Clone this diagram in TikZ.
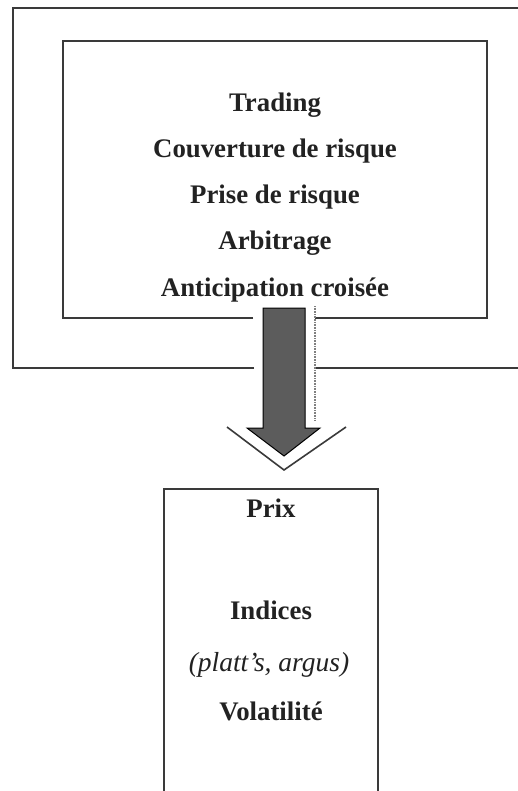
\documentclass[tikz,border=0pt]{standalone}
\usepackage{fontspec}
\setmainfont{Liberation Serif}
\definecolor{ink}{HTML}{222222}
\definecolor{boxline}{HTML}{3A3A3A}
\definecolor{arrowfill}{HTML}{5C5C5C}
\begin{document}
\begin{tikzpicture}[x=1pt,y=-1pt,
  frame/.style={draw=boxline,line width=1.1pt},
  lbl/.style={anchor=base,text=ink,font=\fontsize{26.8}{30}\selectfont\bfseries,inner sep=0pt},
  ilbl/.style={anchor=base,text=ink,font=\fontsize{27.5}{30}\selectfont\itshape,inner sep=0pt}]
\useasboundingbox[fill=white] (0,0) rectangle (518,791);
% outer box
\draw[frame] (254,368) -- (13,368) -- (13,8) -- (518,8);
\draw[frame] (315,368) -- (518,368);
% inner box
\draw[frame] (253,318) -- (63,318) -- (63,41) -- (487,41) -- (487,318) -- (315,318);
% texts
\node[lbl] (t1) at (275,112) {Trading};
\node[lbl] (t2) at (275,158) {Couverture de risque};
\node[lbl] (t3) at (275,204) {Prise de risque};
\node[lbl] (t4) at (275,250) {Arbitrage};
\node[lbl] (t5) at (275,296) {Anticipation croisée};
% arrow shadow
\draw[boxline,line width=1.6pt] (227,427) -- (284,470) -- (346,427);
\draw[gray,line width=1.2pt,dash pattern=on 0.8pt off 0.8pt] (315,306) -- (315,420);
% arrow
\draw[black,line width=1pt,fill=arrowfill,line join=miter]
  (263,308) -- (305,308) -- (305,428) -- (320,428) -- (284,456) -- (247,428) -- (263,428) -- cycle;
% bottom box
\draw[frame] (164,795) -- (164,489) -- (378,489) -- (378,795);
\node[lbl] (b1) at (271,517) {Prix};
\node[lbl] (b2) at (271,619) {Indices};
\node[ilbl] (b3) at (269,671) {(platt’s, argus)};
\node[lbl] (b4) at (271,720) {Volatilité};
\end{tikzpicture}
\end{document}
